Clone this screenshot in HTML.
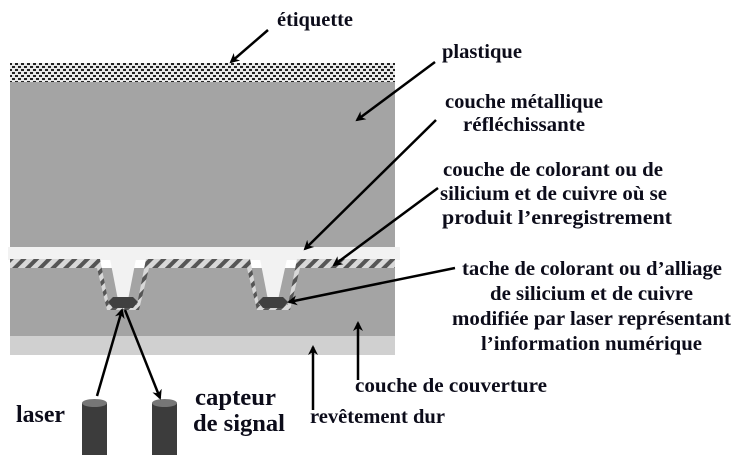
<!DOCTYPE html>
<html><head><meta charset="utf-8"><style>
body{margin:0;background:#fff;width:750px;height:458px;overflow:hidden}
svg text{font-family:"Liberation Serif",serif;font-weight:bold;fill:#0c0c1a;font-size:20px}
</style></head><body>
<svg width="750" height="458" viewBox="0 0 750 458" xmlns="http://www.w3.org/2000/svg">
<defs>
<pattern id="dots" width="6" height="6" patternUnits="userSpaceOnUse">
<rect width="6" height="6" fill="#e8e8e8"/>
<rect x="0" y="0" width="3" height="2" fill="#222"/>
<rect x="3" y="3" width="3" height="2" fill="#222"/>
</pattern>
<pattern id="hatch" width="9" height="9" patternUnits="userSpaceOnUse" patternTransform="rotate(45)">
<rect width="9" height="9" fill="#d8d8d8"/>
<rect width="4" height="9" fill="#555"/>
</pattern>
<marker id="ah" markerWidth="10" markerHeight="10" refX="8" refY="5" orient="auto" markerUnits="userSpaceOnUse">
<path d="M0,0 L10,5 L0,10 L3,5 z" fill="#000"/>
</marker>
</defs>
<rect x="10" y="63" width="385" height="20" fill="url(#dots)"/>
<rect x="10" y="82" width="385" height="166" fill="#a4a4a4"/>
<rect x="10" y="268" width="385" height="68" fill="#a4a4a4"/>
<rect x="10" y="336" width="385" height="19" fill="#d0d0d0"/>
<rect x="8" y="247" width="392" height="13" fill="#f2f2f2"/>
<path d="M10,259 H100 L109,305 H137 L146,259 H250 L259,305 H288 L297,259 H395 V268 H300 L290,310 H257 L247,268 H149 L139,310 H107 L97,268 H10Z" fill="url(#hatch)"/>
<path d="M110,259 L118,300 H128 L136,259Z M260,259 L268,300 H278 L287,259Z" fill="#f2f2f2"/>
<path d="M113,297 H133 L138,302 L133,308 H113 L108,302Z" fill="#404040"/>
<path d="M263,297 H283 L288,302 L283,308 H263 L258,302Z" fill="#404040"/>
<rect x="82" y="403" width="25" height="52" fill="#3c3c3c"/>
<ellipse cx="94.5" cy="403" rx="12.5" ry="4" fill="#777"/>
<rect x="152" y="403" width="25" height="52" fill="#3c3c3c"/>
<ellipse cx="164.5" cy="403" rx="12.5" ry="4" fill="#777"/>
<g stroke="#000" stroke-width="2.5" fill="none" marker-end="url(#ah)">
<line x1="268" y1="30" x2="231" y2="62"/>
<line x1="435" y1="62" x2="357" y2="120"/>
<line x1="436" y1="120" x2="305" y2="249"/>
<line x1="438" y1="188" x2="334" y2="265"/>
<line x1="455" y1="268" x2="289" y2="302"/>
<line x1="97" y1="396" x2="122" y2="310"/>
<line x1="125" y1="310" x2="160" y2="398"/>
<line x1="358" y1="380" x2="358" y2="323"/>
<line x1="313" y1="410" x2="313" y2="347"/>
</g>
<g lengthAdjust="spacingAndGlyphs">
<text x="277" y="26" textLength="76" lengthAdjust="spacingAndGlyphs">étiquette</text>
<text x="442" y="58" textLength="80" lengthAdjust="spacingAndGlyphs">plastique</text>
<text x="445" y="108" textLength="158" lengthAdjust="spacingAndGlyphs">couche métallique</text>
<text x="463" y="131" textLength="122" lengthAdjust="spacingAndGlyphs">réfléchissante</text>
<text x="443" y="176" textLength="220" lengthAdjust="spacingAndGlyphs">couche de colorant ou de</text>
<text x="440" y="200" textLength="227" lengthAdjust="spacingAndGlyphs">silicium et de cuivre où se</text>
<text x="442" y="224" textLength="230" lengthAdjust="spacingAndGlyphs">produit l’enregistrement</text>
<text x="462" y="275" textLength="260" lengthAdjust="spacingAndGlyphs">tache de colorant ou d’alliage</text>
<text x="490" y="300" textLength="203" lengthAdjust="spacingAndGlyphs">de silicium et de cuivre</text>
<text x="452" y="325" textLength="279" lengthAdjust="spacingAndGlyphs">modifiée par laser représentant</text>
<text x="481" y="350" textLength="221" lengthAdjust="spacingAndGlyphs">l’information numérique</text>
<text x="355" y="392" textLength="192" lengthAdjust="spacingAndGlyphs">couche de couverture</text>
<text x="310" y="423" textLength="135" lengthAdjust="spacingAndGlyphs">revêtement dur</text>
<text x="16" y="422" style="font-size:24px" textLength="49" lengthAdjust="spacingAndGlyphs">laser</text>
<text x="195" y="405" style="font-size:24px" textLength="81" lengthAdjust="spacingAndGlyphs">capteur</text>
<text x="193" y="431" style="font-size:24px" textLength="92" lengthAdjust="spacingAndGlyphs">de signal</text>
</g>
</svg>
</body></html>
